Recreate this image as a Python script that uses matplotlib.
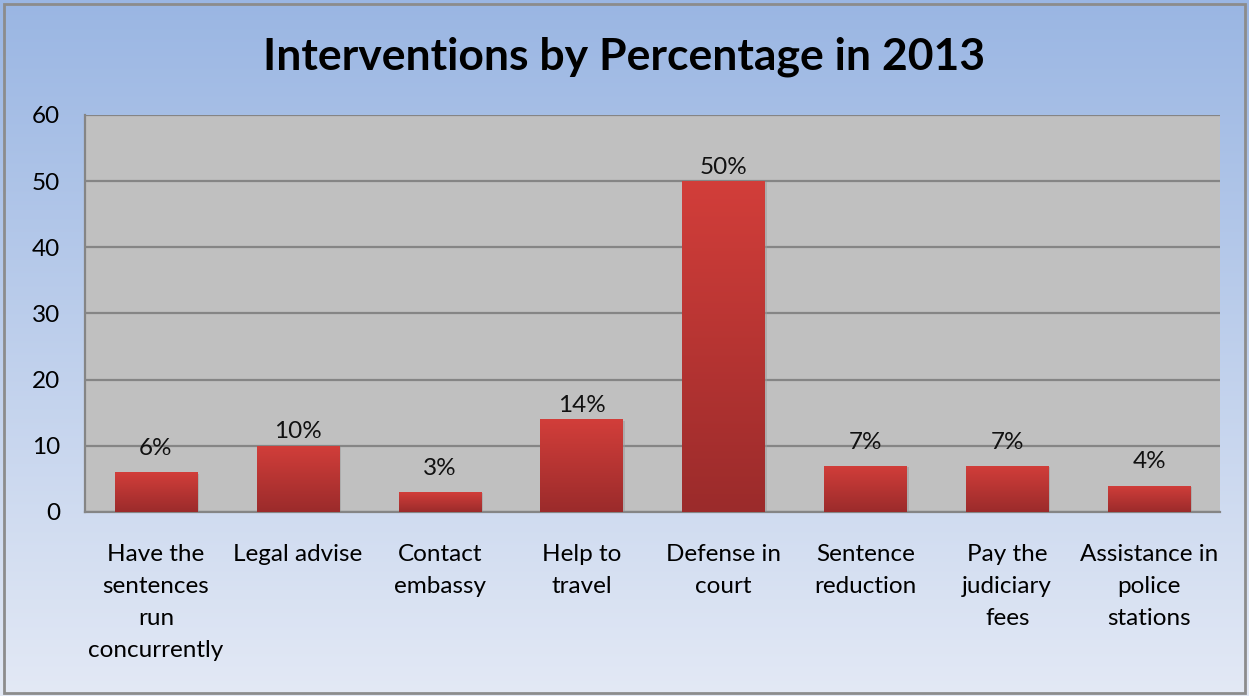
import numpy as np
import matplotlib.pyplot as plt
from matplotlib.colors import LinearSegmentedColormap

plt.rcParams['font.family'] = ['Lato', 'DejaVu Sans']

categorias = ["Have the\nsentences\nrun\nconcurrently", "Legal advise", "Contact\nembassy",
              "Help to\ntravel", "Defense in\ncourt", "Sentence\nreduction",
              "Pay the\njudiciary\nfees", "Assistance in\npolice\nstations"]
valores = [6, 10, 3, 14, 50, 7, 7, 4]
etiquetas = ["6%", "10%", "3%", "14%", "50%", "7%", "7%", "4%"]
yticks = [0, 10, 20, 30, 40, 50, 60]

fig = plt.figure(figsize=(12.49, 6.96), dpi=100)

# fondo degradado
bg = fig.add_axes([0, 0, 1, 1], zorder=-10)
fondo = LinearSegmentedColormap.from_list("fondo", ["#9AB6E3", "#E3E9F5"])
bg.imshow(np.linspace(0, 1, 256).reshape(-1, 1), cmap=fondo, aspect='auto', extent=[0, 1, 0, 1])
bg.set_xlim(0, 1); bg.set_ylim(0, 1); bg.axis('off')
bg.add_patch(plt.Rectangle((0.003, 0.004), 0.994, 0.99, fill=False, edgecolor="#8C8C8C", lw=2))

ax = fig.add_axes([0.068, 0.2644, 0.9088, 0.5704])
ax.set_facecolor("#C0C0C0")

x = np.arange(len(categorias))
rojo = LinearSegmentedColormap.from_list("rojo", ["#9B2B2B", "#D23E3A"])
barras = ax.bar(x, valores, width=0.58, color='none', zorder=3)
for b in barras:
    x0, w, h = b.get_x(), b.get_width(), b.get_height()
    # sombra
    ax.add_patch(plt.Rectangle((x0 + 0.015, 0), w, h - 0.2, color="#9a9a9a", alpha=0.5, zorder=2, lw=0))
    im = ax.imshow(np.linspace(0, 1, 256).reshape(-1, 1), cmap=rojo, origin='lower',
                   aspect='auto', extent=[x0, x0 + w, 0, h], zorder=3)
    im.set_clip_path(b)

for xi, v, t in zip(x, valores, etiquetas):
    desp = 10 if len(t) > 2 else 17
    ax.annotate(t, (xi, v), xytext=(0, desp), textcoords='offset points',
                ha='center', va='center', fontsize=17.5, color="#111111", zorder=4)

ax.set_xlim(-0.5, len(categorias) - 0.5)
ax.set_ylim(0, 60)
ax.set_yticks(yticks)
ax.yaxis.grid(True, color="#858585", lw=1.6, zorder=1)
ax.set_axisbelow(True)
ax.set_xticks(x)
ax.set_xticklabels(categorias, fontsize=17.5, linespacing=1.65, va='top')
ax.tick_params(axis='x', length=0, pad=23)
ax.tick_params(axis='y', length=0, pad=18, labelsize=17.5)
for s in ['top', 'right']:
    ax.spines[s].set_visible(False)
for s in ['left', 'bottom']:
    ax.spines[s].set_color("#858585")
    ax.spines[s].set_linewidth(1.6)

fig.text(0.5, 0.918, "Interventions by Percentage in 2013", ha='center', va='center',
         fontsize=32, fontweight='bold')

plt.savefig("out.png", dpi=100)
